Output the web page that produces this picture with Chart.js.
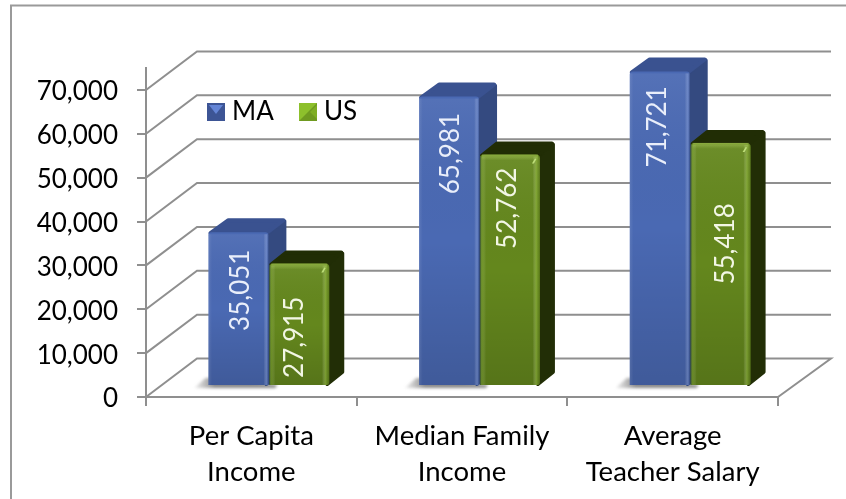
<!DOCTYPE html>
<html>
<head>
<meta charset="utf-8">
<style>html,body{margin:0;padding:0;background:#fff}canvas{display:block}</style>
<script src="https://cdn.jsdelivr.net/npm/chart.js@4"></script>
</head>
<body>
<canvas id="c" width="846" height="499"></canvas>
<script>
const categories = [['Per Capita','Income'],['Median Family','Income'],['Average','Teacher Salary']];
const seriesNames = ['MA','US'];
const maValues = [35051,65981,71721];
const usValues = [27915,52762,55418];
const yTickValues = [0,10000,20000,30000,40000,50000,60000,70000];
const yAxisMax = 75000;

const FONT = 'Lato, Carlito, Calibri, sans-serif';
const GREY = '#8f8f8f';
const WALL = {dx:51, dy:38.5};
const FLOOR_SHIFT = {x:17.5, y:-11};
const LOOK = [
  {front:'#4a69b3', side:'#344a80', top:'#3a5290', dx:18, dy:14, text:'#e9eefa',
   drop:[58,57,55.5], textDx:[2,2,-2]},
  {front:'#64871d', side:'#222e06', top:'#212d05', dx:15, dy:13, text:'#f2f6e4',
   drop:[73.7,53.7,101], textDx:[-5,-2,5]}
];

function poly(ctx, pts, fill, round){
  ctx.beginPath();
  pts.forEach((p,i)=> i ? ctx.lineTo(p[0],p[1]) : ctx.moveTo(p[0],p[1]));
  ctx.closePath();
  ctx.fillStyle = fill;
  ctx.fill();
  if(round){ ctx.strokeStyle = fill; ctx.lineJoin='round'; ctx.lineWidth=round; ctx.stroke(); }
}

function before3D(chart, index){
  const c = chart.ctx, s = LOOK[index];
  c.save();
  c.translate(FLOOR_SHIFT.x,FLOOR_SHIFT.y);
  chart.getDatasetMeta(index).data.forEach(b=>{
    const l=b.x-b.width/2, r=b.x+b.width/2, t=b.y, bt=b.base;
    poly(c,[[r-2,t+2],[r+s.dx-2,t-s.dy+3],[r+s.dx-2,bt-s.dy],[r-2,bt-1]],s.side,4);
    poly(c,[[l+2,t+1],[l+s.dx+2,t-s.dy+2],[r+s.dx-3,t-s.dy+2],[r-2,t+1]],s.top,4);
  });
}
function after3D(chart, index){
  const c = chart.ctx;
  chart.getDatasetMeta(index).data.forEach(b=>{
    const l=b.x-b.width/2, r=b.x+b.width/2, t=b.y, bt=b.base, h=bt-t;
    let g = c.createLinearGradient(0,t,0,bt);
    g.addColorStop(0,'rgba(255,255,255,.06)');
    g.addColorStop(.5,'rgba(0,0,0,0)');
    g.addColorStop(1,'rgba(0,0,0,.14)');
    c.fillStyle=g; c.fillRect(l,t+2,r-l,h-2);
    g = c.createLinearGradient(l,0,r,0);
    if(index===1){
      g.addColorStop(0,'rgba(30,50,60,.85)'); g.addColorStop(.035,'rgba(150,190,70,.25)');
      g.addColorStop(.1,'rgba(255,255,255,0)'); g.addColorStop(.88,'rgba(255,255,255,0)');
      g.addColorStop(.94,'rgba(170,210,80,.4)'); g.addColorStop(1,'rgba(70,95,15,.25)');
    } else {
      g.addColorStop(0,'rgba(255,255,255,.1)'); g.addColorStop(.06,'rgba(255,255,255,0)');
      g.addColorStop(.92,'rgba(255,255,255,0)'); g.addColorStop(.97,'rgba(170,190,240,.3)');
      g.addColorStop(1,'rgba(40,60,110,.35)');
    }
    c.fillStyle=g; c.fillRect(l,t+2,r-l,h-2);
    if(index===1){
      g = c.createLinearGradient(0,t,0,t+6);
      g.addColorStop(0,'rgba(190,220,110,.45)'); g.addColorStop(1,'rgba(190,220,110,0)');
      c.fillStyle=g; c.fillRect(l+2,t,r-l-4,6);
      poly(c,[[r-8,t+9],[r-5,t+4],[r-3.5,t+4.5],[r-6,t+9]],'#bfe07a');
    }
  });
  c.restore();
}

const threeD = {
  id:'threeD',
  beforeDraw(chart){
    const c = chart.ctx;
    c.save();
    c.fillStyle='#fff'; c.fillRect(0,0,chart.width,chart.height);
    c.strokeStyle='#9a9a9a'; c.lineWidth=2;
    c.beginPath(); c.moveTo(11,499); c.lineTo(11,5.5); c.lineTo(846,5.5); c.stroke();
    c.restore();
  },
  beforeDatasetsDraw(chart){
    const c = chart.ctx, y = chart.scales.y, a = chart.chartArea;
    c.save();
    c.strokeStyle=GREY; c.lineWidth=2;
    y.ticks.forEach(t=>{
      const py = y.getPixelForValue(t.value);
      c.beginPath();
      c.moveTo(a.left,py);
      c.lineTo(a.left+WALL.dx,py-WALL.dy);
      c.lineTo(a.right+WALL.dx+2,py-WALL.dy);
      if(t.value===0) c.lineTo(a.right,py);
      c.stroke();
    });
    const ma = chart.getDatasetMeta(0).data, us = chart.getDatasetMeta(1).data;
    c.filter='blur(1.5px)';
    ma.forEach((b,i)=>{
      const l = b.x-b.width/2+FLOOR_SHIFT.x, base = b.base+FLOOR_SHIFT.y;
      const r = us[i].x-us[i].width/2+FLOOR_SHIFT.x;
      const g = c.createLinearGradient(l-15,0,l+6,0);
      g.addColorStop(0,'rgba(130,130,130,.1)'); g.addColorStop(1,'rgba(110,110,110,.8)');
      poly(c,[[l-14,base+3],[l-3,base-7],[l+4,base-7],[r+8,base],[r+6,base+3]],g);
    });
    c.restore();
  },
  // Chart.js paints the last dataset first; the US bars must sit over the MA bars,
  // so US is held back and painted right after MA.
  beforeDatasetDraw(chart,args){
    if(args.index===1) return false;
    before3D(chart,0);
  },
  afterDatasetDraw(chart,args){
    if(args.index!==0) return;
    after3D(chart,0);
    before3D(chart,1);
    chart.getDatasetMeta(1).controller.draw();
    after3D(chart,1);
  },
  afterDatasetsDraw(chart){
    const c = chart.ctx;
    c.save();
    [0,1].forEach(ds=>{
      const s = LOOK[ds];
      chart.getDatasetMeta(ds).data.forEach((b,i)=>{
        const v = chart.data.datasets[ds].data[i];
        c.save();
        c.translate(b.x+FLOOR_SHIFT.x+s.textDx[i], b.y+FLOOR_SHIFT.y+s.drop[i]);
        c.rotate(-Math.PI/2);
        c.font='26px '+FONT; c.fillStyle=s.text;
        c.textAlign='center'; c.textBaseline='middle';
        c.fillText(v.toLocaleString('en-US'),0,0);
        c.restore();
      });
    });
    const swatchX=[207,299], textX=[232,324];
    chart.data.datasets.forEach((d,i)=>{
      const x=swatchX[i], y=103, w=18;
      if(i===0){
        c.fillStyle='#3d5595'; c.fillRect(x,y,w,w);
        poly(c,[[x+2,y+2],[x+w-2,y+2],[x+w/2,y+w/2+2]],'#6485d6');
      } else {
        c.fillStyle='#8dc02c'; c.fillRect(x,y,w,w);
        poly(c,[[x+w,y],[x+w,y+w],[x,y+w],[x+w/2,y+w/2]],'#6f9a20');
        poly(c,[[x+w,y+2],[x+w,y+w-2],[x+w/2+2,y+w/2]],'#7fae24');
      }
      c.font='26px '+FONT; c.fillStyle='#000'; c.textAlign='left'; c.textBaseline='middle';
      c.fillText(d.label,textX[i],112);
    });
    c.restore();
  }
};

new Chart(document.getElementById('c'),{
  type:'bar',
  plugins:[threeD],
  data:{
    labels:categories,
    datasets:[
      {label:seriesNames[0],data:maValues,backgroundColor:LOOK[0].front,
       categoryPercentage:.578,barPercentage:.985,clip:false,
       borderRadius:{topLeft:3,topRight:3,bottomLeft:0,bottomRight:0},borderSkipped:false},
      {label:seriesNames[1],data:usValues,backgroundColor:LOOK[1].front,
       categoryPercentage:.578,barPercentage:.985,clip:false,
       borderRadius:{topLeft:4,topRight:4,bottomLeft:0,bottomRight:3},borderSkipped:false}
    ]
  },
  options:{
    responsive:false,
    animation:false,
    events:[],
    layout:{autoPadding:false,padding:{left:0,top:68,right:68,bottom:0}},
    plugins:{legend:{display:false},tooltip:{enabled:false},title:{display:false}},
    scales:{
      x:{
        afterFit(s){s.height=102;},
        grid:{drawOnChartArea:false,drawTicks:true,tickLength:9,color:GREY,lineWidth:2},
        border:{color:GREY,width:2},
        ticks:{color:'#000',maxRotation:0,minRotation:0,autoSkip:false,padding:12,
               font:{family:FONT,size:27.5,lineHeight:1.31}}
      },
      y:{
        min:0,max:yAxisMax,
        afterFit(s){s.width=146;},
        afterBuildTicks(s){s.ticks=yTickValues.map(value=>({value}));},
        grid:{drawOnChartArea:false,drawTicks:true,tickLength:9,color:GREY,lineWidth:2},
        border:{color:GREY,width:2},
        ticks:{color:'#000',padding:19,labelOffset:2,font:{family:FONT,size:26},
               callback:v=>v.toLocaleString('en-US')}
      }
    }
  }
});
</script>
</body>
</html>
